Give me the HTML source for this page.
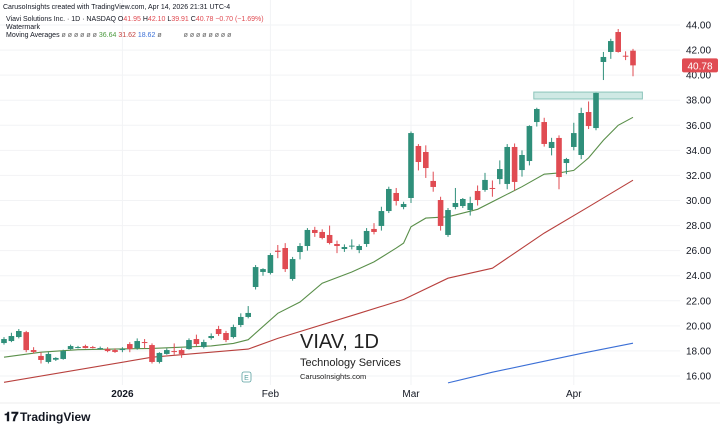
<!DOCTYPE html>
<html><head><meta charset="utf-8"><style>
html,body{margin:0;padding:0;background:#fff;}
body{width:720px;height:431px;overflow:hidden;position:relative;font-family:"Liberation Sans",sans-serif;}
svg{position:absolute;left:0;top:0;}
</style></head><body>
<svg id="chart" width="720" height="431" viewBox="0 0 720 431">
<g id="grid"></g>
<g id="wm">
<text x="300" y="348" font-size="20" fill="#222">VIAV, 1D</text>
<text x="300" y="366" font-size="11" fill="#222">Technology Services</text>
<text x="300" y="379" font-size="7.5" fill="#222">CarusoInsights.com</text>
</g>
<g id="mas"></g>
<g id="zone"></g>
<g id="candles"></g>
<g id="yaxis"></g>
<g id="xaxis"></g>
<g>
<rect x="242" y="372" width="9" height="10" rx="2" fill="#fff" stroke="#5aa0a0" stroke-width="0.8"/>
<text x="246.5" y="380" font-size="7" fill="#5aa0a0" text-anchor="middle">E</text>
</g>
<line x1="0" y1="403" x2="720" y2="403" stroke="#eee" stroke-width="1"/>
<g>
<text x="4" y="421" font-size="13" font-weight="bold" fill="#131722">𝟏𝟕</text>
<text x="20" y="421" font-size="12" font-weight="bold" fill="#131722">TradingView</text>
</g>
<g font-size="7" fill="#131722">
<text x="3" y="9">CarusoInsights created with TradingView.com, Apr 14, 2026 21:31 UTC-4</text>
<text x="6" y="21">Viavi Solutions Inc. · 1D · NASDAQ <tspan>O</tspan><tspan fill="#e04b52">41.95</tspan> <tspan>H</tspan><tspan fill="#e04b52">42.10</tspan> <tspan>L</tspan><tspan fill="#e04b52">39.91</tspan> <tspan>C</tspan><tspan fill="#e04b52">40.78 −0.70 (−1.69%)</tspan></text>
<text x="6" y="29">Watermark</text>
<text x="6" y="37">Moving Averages <tspan fill="#666">ø ø ø ø ø ø</tspan> <tspan fill="#4c9a3f">36.64</tspan> <tspan fill="#c2403d">31.62</tspan> <tspan fill="#3b6fd6">18.62</tspan> <tspan fill="#666">ø</tspan><tspan dx="22" fill="#666">ø ø ø ø ø ø ø ø</tspan></text>
</g>
</svg>
<script>
const opens=[18.63,18.79,19.11,19.5,18.07,17.6,17.12,17.3,17.36,18.15,18.23,18.39,18.31,18.15,18.15,18.07,18.07,18.55,18.23,18.71,18.47,17.12,17.76,17.99,18.07,18.15,18.95,18.31,19.03,19.75,19.43,19.11,20.07,20.71,23.10,24.30,24.22,26.0,26.21,23.74,25.89,26.37,27.65,27.49,27.25,26.53,26.13,26.35,26.05,26.53,27.73,27.97,29.16,30.60,29.48,30.20,34.35,33.87,31.56,30.04,27.25,29.48,29.56,29.24,30.76,30.84,31.0,31.71,31.32,34.27,32.43,33.15,36.26,36.26,34.19,34.99,32.99,34.27,33.63,37.06,35.78,41.05,41.85,43.44,41.55,41.95];
const highs=[19.1,19.45,19.75,19.6,18.3,17.9,17.9,17.5,18.1,18.5,18.4,18.5,18.4,18.35,18.3,18.2,18.3,18.7,19.0,18.95,18.6,17.9,18.2,18.6,18.2,19.0,19.3,18.9,19.4,20.0,19.6,20.1,21.0,21.58,24.85,24.6,25.8,26.45,26.6,25.5,26.6,27.8,27.9,27.7,28.0,26.8,26.5,26.9,26.5,27.8,28.2,29.5,31.1,31.0,29.9,35.5,34.5,34.4,32.3,30.3,29.4,31.0,30.2,30.3,31.2,32.2,31.6,33.2,34.5,34.55,34.0,36.0,37.4,36.6,35.0,35.2,33.4,36.2,37.4,37.9,38.6,41.85,42.9,43.68,41.9,42.10];
const lows=[18.5,18.7,19.0,17.9,17.8,17.0,17.0,17.2,17.3,18.1,18.2,18.2,18.2,18.1,17.9,17.85,17.9,17.9,18.1,18.2,17.0,17.0,17.7,17.7,17.45,18.1,18.4,18.2,18.9,19.2,18.7,19.0,19.9,20.6,22.9,24.0,24.1,25.4,24.3,23.6,25.3,26.0,27.1,26.9,26.5,25.8,25.9,26.1,25.8,26.3,27.3,27.6,29.0,29.6,29.3,29.8,32.4,31.8,30.7,27.6,27.1,29.3,29.4,28.8,29.6,30.7,30.3,31.3,30.9,30.8,31.9,32.8,35.9,34.3,33.6,30.9,32.1,34.0,33.3,35.7,35.6,39.61,41.3,41.8,41.2,39.91];
const closes=[18.95,19.19,19.59,18.07,17.92,17.28,17.76,17.44,17.99,18.39,18.31,18.23,18.23,18.23,17.99,17.92,18.15,18.15,18.79,18.63,17.12,17.84,18.07,17.92,17.76,18.87,18.55,18.71,19.19,19.35,18.87,19.91,20.71,21.03,24.69,24.53,25.65,25.9,24.53,25.33,26.37,27.65,27.41,27.01,26.61,26.37,26.29,26.4,26.37,27.57,27.49,29.16,30.92,29.96,29.72,35.38,33.07,32.59,31.08,27.97,29.24,29.80,30.12,29.80,30.04,31.64,30.92,32.51,34.27,31.48,33.63,35.94,37.30,34.51,34.67,31.87,33.31,35.38,36.98,35.94,38.58,41.45,42.72,41.85,41.48,40.78];
const maFastIdx=[0,5,10,20,28,31,33,37,40,43,47,50,53,54,55,57,60,64,67,70,73,75,77,79,81,83,85];
const maFastVal=[17.5,17.9,18.1,18.2,18.4,18.6,18.9,21.0,21.9,23.4,24.3,25.1,26.2,26.6,27.9,28.6,28.7,29.3,30.2,31.1,32.1,32.2,32.4,33.4,34.8,36.0,36.64];
const maMidIdx=[0,20,33,37,48,54,60,66,73,79,85];
const maMidVal=[15.5,17.5,18.15,19.0,21.0,22.1,23.8,24.6,27.4,29.5,31.62];
const maSlowIdx=[60,66,72,78,85];
const maSlowVal=[15.45,16.3,17.05,17.8,18.62];
const yTicks=[16,18,20,22,24,26,28,30,32,34,36,38,40,42,44];
const monthLabels=["2026","Feb","Mar","Apr"];
const monthIdx=[16,36,55,77];
const zoneLow=38.1, zoneHigh=38.65, zoneStart=72, zoneEnd=86;
const lastPrice=40.78;

const NS="http://www.w3.org/2000/svg";
const yS=p=>25+(44-p)*12.536;
const xS=i=>4+i*7.4;
function mk(tag,attrs,parent){const e=document.createElementNS(NS,tag);for(const k in attrs)e.setAttribute(k,attrs[k]);parent.appendChild(e);return e;}
const grid=document.getElementById('grid'),yax=document.getElementById('yaxis'),xax=document.getElementById('xaxis');
yTicks.forEach(t=>{
  const l=mk('line',{x1:0,x2:680,y1:yS(t),y2:yS(t),stroke:'#f2f3f5','stroke-width':1},grid);
  
  
  const tx=mk('text',{x:686,y:yS(t)+3.5,'font-size':10,fill:'#131722'},yax);
  tx.textContent=t.toFixed(2);
  
  
});
monthLabels.forEach((m,k)=>{
  const x=xS(monthIdx[k]);
  const l=mk('line',{x1:x,x2:x,y1:0,y2:385,stroke:'#f2f3f5','stroke-width':1},grid);
  
  
  const tx=mk('text',{x:x,y:397,'font-size':10,'text-anchor':'middle',fill:'#131722','font-weight':m==='2026'?'bold':'normal'},xax);
  tx.textContent=m;
  
  
});
const mas=document.getElementById('mas');
function line(idx,val,color,name){
  const pts=idx.map((i,k)=>xS(i).toFixed(1)+','+yS(val[k]).toFixed(1)).join(' ');
  const p=mk('polyline',{points:pts,fill:'none',stroke:color,'stroke-width':1.1},mas);
  
  
}
line(maFastIdx,maFastVal,'#5a8f4a','ma-fast-line');
line(maMidIdx,maMidVal,'#b8403d','ma-mid-line');
line(maSlowIdx,maSlowVal,'#3b6fd6','ma-slow-line');
const zone=document.getElementById('zone');
const zr=mk('rect',{x:xS(zoneStart)-3,y:yS(zoneHigh),width:xS(zoneEnd)-xS(zoneStart)+5,height:yS(zoneLow)-yS(zoneHigh),fill:'#cfe9e4',stroke:'#8cc5bb','stroke-width':1},zone);


const cg=document.getElementById('candles');
opens.forEach((o,i)=>{
  const c=closes[i],up=c>=o,col=up?'#2f8f7a':'#e04b52',x=xS(i);
  const g=mk('g',{},cg);
  
  
  mk('line',{x1:x,x2:x,y1:yS(highs[i]),y2:yS(lows[i]),stroke:col,'stroke-width':1},g);
  const top=yS(Math.max(o,c)),bot=yS(Math.min(o,c));
  mk('rect',{x:x-2.8,y:top,width:5.6,height:Math.max(1,bot-top),fill:col},g);
});
const pl=mk('g',{},yax);


mk('rect',{x:682,y:yS(lastPrice)-7,width:36,height:14,rx:2,fill:'#e04b52'},pl);
const lt=mk('text',{x:700,y:yS(lastPrice)+4,'font-size':10,fill:'#fff','text-anchor':'middle'},pl);
lt.textContent=lastPrice.toFixed(2);
</script>
</body></html>
